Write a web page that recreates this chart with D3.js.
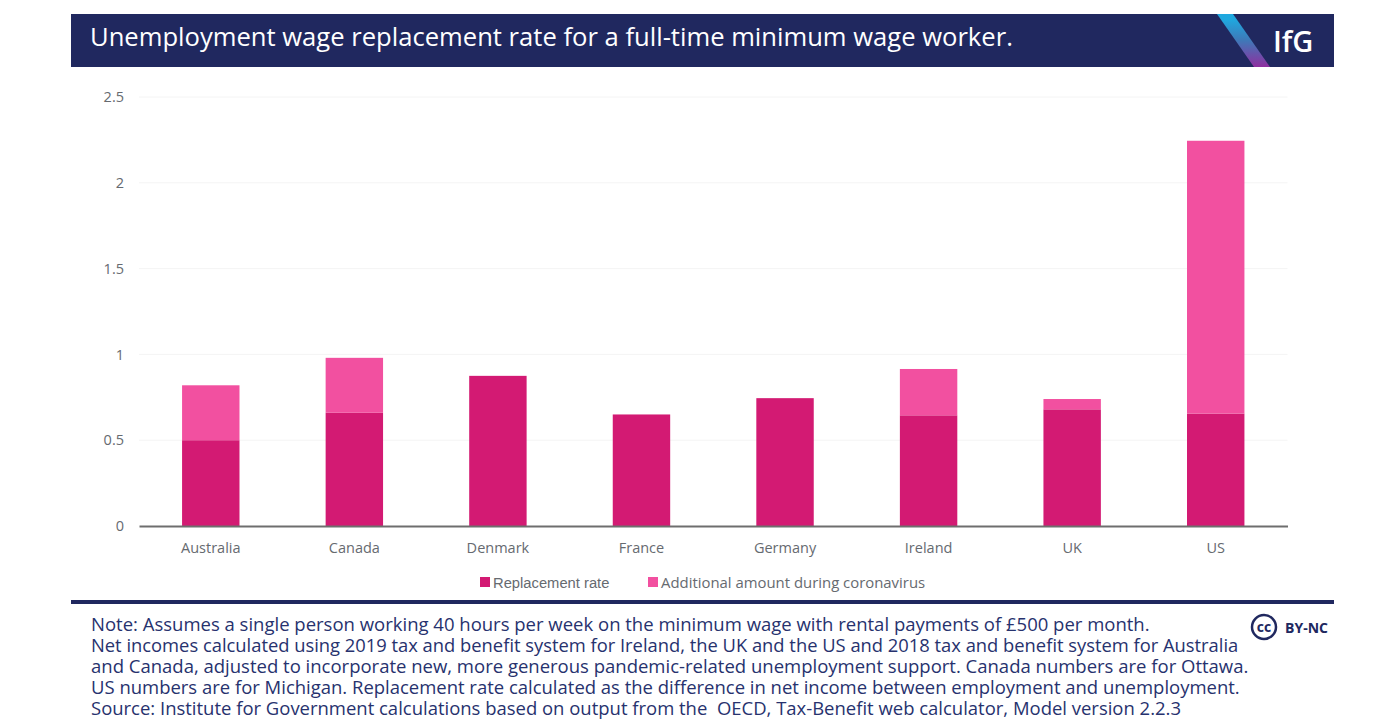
<!DOCTYPE html>
<html>
<head>
<meta charset="utf-8">
<script src="https://cdn.jsdelivr.net/npm/d3@7"></script>
<style>
  body { margin: 0; background: #fff; }
  svg { display: block; }
  text { font-family: "Open Sans", sans-serif; white-space: pre; }
</style>
</head>
<body>
<script>
// data
const countries = ["Australia", "Canada", "Denmark", "France", "Germany", "Ireland", "UK", "US"];
const replacementRate = [0.5, 0.66, 0.875, 0.65, 0.745, 0.645, 0.68, 0.655];
const additionalAmount = [0.32, 0.32, 0, 0, 0, 0.27, 0.06, 1.59];
const yTicks = [0, 0.5, 1, 1.5, 2, 2.5];
const seriesNames = ["Replacement rate", "Additional amount during coronavirus"];
const seriesColours = ["#d31a73", "#f250a0"];
const title = "Unemployment wage replacement rate for a full-time minimum wage worker.";
const noteLines = [
  "Note: Assumes a single person working 40 hours per week on the minimum wage with rental payments of £500 per month.",
  "Net incomes calculated using 2019 tax and benefit system for Ireland, the UK and the US and 2018 tax and benefit system for Australia",
  "and Canada, adjusted to incorporate new, more generous pandemic-related unemployment support. Canada numbers are for Ottawa.",
  "US numbers are for Michigan. Replacement rate calculated as the difference in net income between employment and unemployment.",
  "Source: Institute for Government calculations based on output from the  OECD, Tax-Benefit web calculator, Model version 2.2.3"
];

const w = 1400;
const h = 728;
const navy = "#20285f";
const noteColour = "#27326e";

const svg = d3.select("body").append("svg").attr("width", w).attr("height", h);

// header band
svg.append("rect").attr("x", 71).attr("y", 14).attr("width", 1263).attr("height", 53).attr("fill", navy);

const defs = svg.append("defs");
const grad = defs.append("linearGradient").attr("id", "stripe").attr("x1", 0).attr("y1", 0).attr("x2", 0).attr("y2", 1);
grad.append("stop").attr("offset", "0.1").attr("stop-color", "#1fa8df");
grad.append("stop").attr("offset", "0.5").attr("stop-color", "#3f78b8");
grad.append("stop").attr("offset", "1").attr("stop-color", "#8f2f9f");
svg.append("path").attr("d", "M1217,14H1233L1270,67H1254Z").attr("fill", "url(#stripe)");

svg.append("text").attr("x", 90).attr("y", 46).attr("fill", "#fff")
  .style("font-size", "25.6px").style("font-weight", 500).text(title);
svg.append("text").attr("x", 1273).attr("y", 52).attr("fill", "#fff")
  .style("font-size", "29px").style("font-weight", 600).text("IfG");

// chart
const xScale = d3.scaleBand().domain(countries).range([139, 1287.5]).paddingInner(0.6).paddingOuter(0.3);
const yScale = d3.scaleLinear().domain([0, 2.5]).range([526, 97]);

svg.append("g").selectAll("line").data(yTicks.slice(1)).enter().append("line")
  .attr("x1", 139).attr("x2", 1287.5)
  .attr("y1", d => yScale(d)).attr("y2", d => yScale(d))
  .attr("stroke", "#f4f4f4").attr("stroke-width", 1);

const stacked = d3.stack().keys([0, 1]).value((d, k) => (k === 0 ? replacementRate : additionalAmount)[d])(countries.map((c, i) => i));

svg.append("g").selectAll("g").data(stacked).enter().append("g")
  .attr("fill", (d, i) => seriesColours[i])
  .selectAll("rect").data(d => d).enter().append("rect")
  .attr("x", d => xScale(countries[d.data]))
  .attr("width", xScale.bandwidth())
  .attr("y", d => yScale(d[1]))
  .attr("height", d => yScale(d[0]) - yScale(d[1]));

const yAxis = d3.axisLeft(yScale).tickValues(yTicks).tickFormat(d => d).tickSize(0).tickPadding(15);
const yG = svg.append("g").attr("transform", "translate(139,0)").call(yAxis);
yG.select(".domain").remove();
yG.selectAll("text").style("font-size", "14.5px").attr("fill", "#666a70");

const xAxis = d3.axisBottom(xScale).tickSize(0).tickPadding(17);
const xG = svg.append("g").attr("transform", "translate(0,526)").call(xAxis);
xG.select(".domain").attr("stroke", "#6e6e6e").attr("stroke-width", 2);
xG.selectAll("text").style("font-size", "14.5px").attr("fill", "#666a70");

// legend: the first label is set in an Arial-like face in the reference
const legendX = [480, 648];
const legendFont = ['"Liberation Sans", sans-serif', '"Open Sans", sans-serif'];
const legendSize = ["14.75px", "14.9px"];
const legend = svg.append("g").selectAll("g").data(seriesNames).enter().append("g")
  .attr("transform", (d, i) => "translate(" + legendX[i] + ",577)");
legend.append("rect").attr("width", 10).attr("height", 10).attr("fill", (d, i) => seriesColours[i]);
legend.append("text").attr("x", 13).attr("y", 10.5).attr("fill", "#666a70")
  .style("font-family", (d, i) => legendFont[i])
  .style("font-size", (d, i) => legendSize[i]).text(d => d);

// rule above note
svg.append("rect").attr("x", 71).attr("y", 600).attr("width", 1263).attr("height", 4).attr("fill", navy);

const noteSize = [18.5, 18.35, 18.5, 18.48, 18.48];
svg.append("g").selectAll("text").data(noteLines).enter().append("text")
  .attr("x", 91).attr("y", (d, i) => 631 + i * 21)
  .attr("fill", noteColour).style("font-size", (d, i) => noteSize[i] + "px").text(d => d);

// cc badge
svg.append("circle").attr("cx", 1264).attr("cy", 627).attr("r", 12).attr("fill", "none").attr("stroke", navy).attr("stroke-width", 2.5);
svg.append("text").attr("x", 1264).attr("y", 632).attr("text-anchor", "middle").attr("fill", navy)
  .style("font-size", "14px").style("font-weight", 700).text("cc");
svg.append("text").attr("x", 1285).attr("y", 633).attr("fill", navy)
  .style("font-size", "14px").style("font-weight", 700).text("BY-NC");
</script>
</body>
</html>
